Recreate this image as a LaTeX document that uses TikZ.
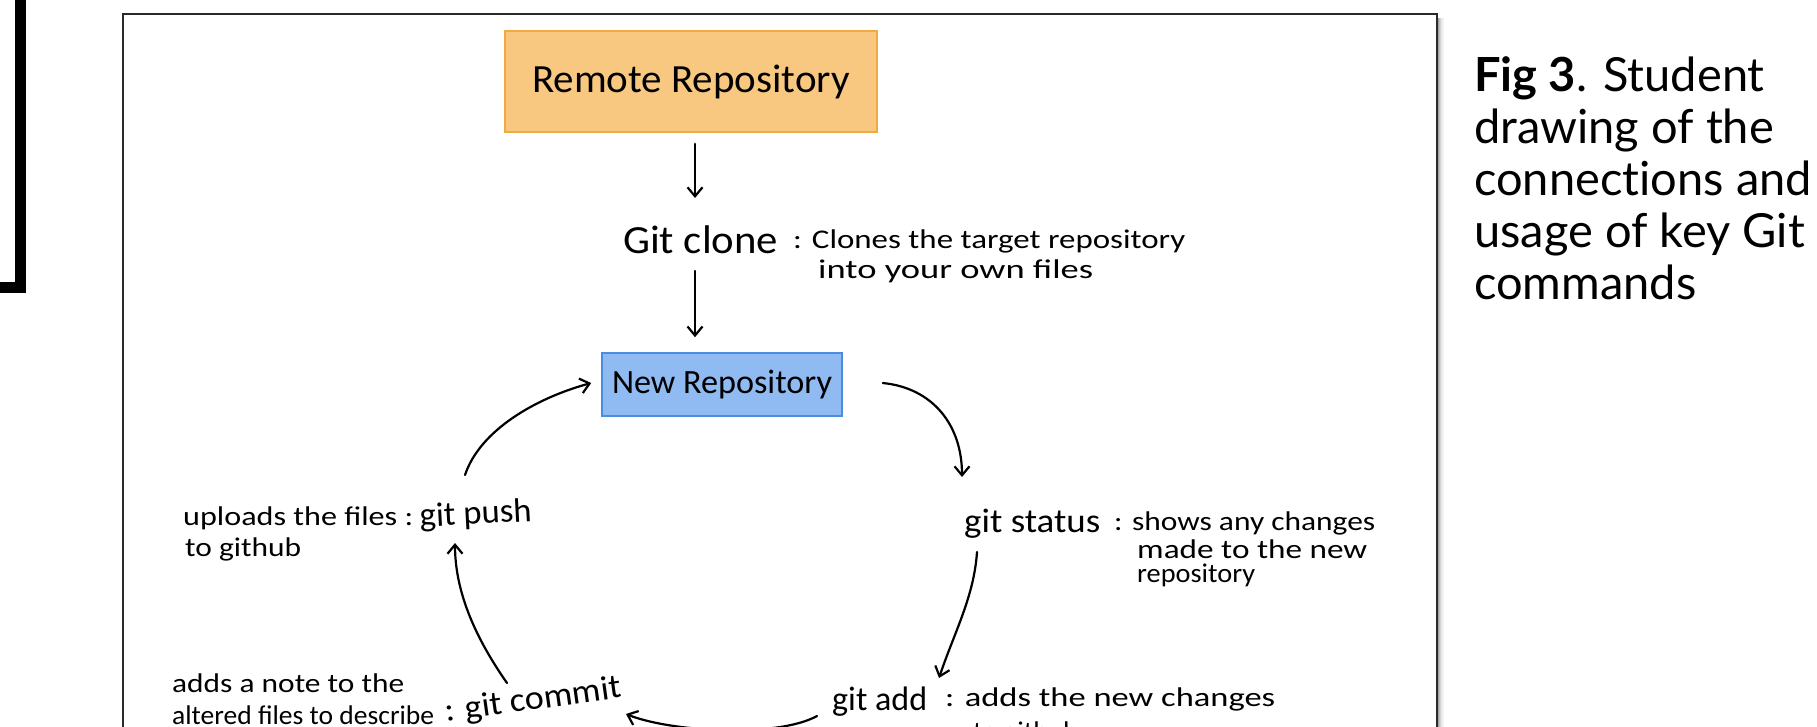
\documentclass[tikz,border=0pt]{standalone}
\usepackage{fontspec}
\usepackage{graphicx}
\usetikzlibrary{arrows.meta}
\setmainfont{Carlito}
\newfontfamily\capfont[Ligatures=NoCommon]{Lato}

\definecolor{orfill}{HTML}{F8C881}
\definecolor{ordraw}{HTML}{F0AA40}
\definecolor{blfill}{HTML}{8FBAF2}
\definecolor{bldraw}{HTML}{4A8DE0}
\definecolor{framecol}{HTML}{2A2A2A}

% stretch a handwritten label to a given width, keeping its height
\newcommand{\hw}[2]{\resizebox{#1}{\height}{#2}}

\begin{document}
\begin{tikzpicture}[x=1pt,y=-1pt,
  bighand/.style={inner sep=0pt, anchor=base west, font=\fontsize{40}{46}\selectfont},
  midhand/.style={inner sep=0pt, anchor=base west, font=\fontsize{34}{40}\selectfont},
  smallhand/.style={inner sep=0pt, anchor=base west, font=\fontsize{27}{32}\selectfont},
  remotebox/.style={draw=ordraw, fill=orfill, line width=1.6pt, minimum width=372pt, minimum height=101pt, inner sep=0pt, font=\fontsize{40}{46}\selectfont},
  repobox/.style={draw=bldraw, fill=blfill, line width=1.6pt, minimum width=240pt, minimum height=63pt, inner sep=0pt, font=\fontsize{34}{40}\selectfont},
  hand arrow/.style={line width=2.2pt, line cap=round, -{Straight Barb[length=9pt,width=15pt,line width=2.2pt]}},
  hand line/.style={line width=2.2pt, line cap=round}
]
\useasboundingbox (0,0) rectangle (1817,726);
\fill[white] (0,0) rectangle (1817,726);

% corner of the neighbouring panel
\fill[black] (15,0) rectangle (26,293);
\fill[black] (0,282) rectangle (26,293);

% panel frame with soft shadow on the right
\foreach \d/\o in {1/0.35,2/0.25,3/0.17,4/0.1,5/0.05}
  \draw[black, opacity=\o, line width=1.2pt] (1437+\d*1.2,18) -- (1437+\d*1.2,760);
\draw[framecol, line width=2pt] (123,800) -- (123,14) -- (1437,14) -- (1437,800);

% boxes
\node[remotebox] (remote) at (691,81.5) {\hw{318pt}{Remote Repository}};
\node[repobox] (newrepo) at (722,384.5) {\hw{220pt}{New Repository}};

% git clone
\node[bighand] (clone) at (623,253) {\hw{155pt}{Git clone}};
\node[smallhand] (clonea) at (793,248) {\hw{392pt}{: Clones the target repository}};
\node[smallhand] (cloneb) at (818,278) {\hw{275pt}{into your own files}};

% git status
\node[midhand] (status) at (964,532) {\hw{136pt}{git status}};
\node[smallhand] (statusa) at (1114,530) {\hw{261pt}{: shows any changes}};
\node[smallhand] (statusb) at (1137,558) {\hw{230pt}{made to the new}};
\node[smallhand] (statusc) at (1137,582) {\hw{118pt}{repository}};

% git add
\node[midhand] (add) at (832,710) {\hw{95pt}{git add}};
\node[smallhand] (adda) at (945,706) {\hw{330pt}{: adds the new changes}};
\node[smallhand] (addb) at (973,740) {\hw{105pt}{to github}};

% git commit
\node[smallhand] (commita) at (172,692) {\hw{232pt}{adds a note to the}};
\node[smallhand] (commitb) at (172,724) {\hw{262pt}{altered files to describe}};
\node[midhand, rotate=8] (commit) at (446,722) {\hw{178pt}{: git commit}};

% git push
\node[smallhand] (pusha) at (183,525) {\hw{230pt}{uploads the files :}};
\node[smallhand] (pushb) at (185,556) {\hw{116pt}{to github}};
\node[midhand, rotate=3] (push) at (420,527) {\hw{112pt}{git push}};

% connectors
\draw[hand arrow] ([shift={(4,11)}]remote.south) -- ([shift={(72,-55)}]clone.base west);
\draw[hand arrow] ([shift={(72,18)}]clone.base west) -- ([shift={(-27,-15)}]newrepo.north);
\draw[hand arrow] ([shift={(40,-1.5)}]newrepo.east)
  .. controls +(50,5) and +(0,-52) .. ([shift={(-2,-55)}]status.base west);
\draw[hand arrow] ([shift={(13,20)}]status.base west)
  .. controls +(-3,45) and +(15,-45) .. ([shift={(107,-32)}]add.base west);
\draw[hand arrow] ([shift={(-15,6)}]add.base west)
  .. controls +(-40,22) and +(45,18) .. ([shift={(180,-8)}]commit.base west);
\draw[hand arrow] ([shift={(61,-39)}]commit.base west)
  .. controls +(-35,-50) and +(0,45) .. ([shift={(35,16)}]push.base west);
\draw[hand arrow] ([shift={(45,-52)}]push.base west)
  .. controls +(15,-45) and +(-55,15) .. ([shift={(-10,-1.5)}]newrepo.west);

% caption
\node[inner sep=0pt, anchor=north west, align=left,
      font=\capfont\fontsize{47}{52}\selectfont] (caption) at (1474,56)
  {\textbf{Fig 3}. Student\\drawing of the\\connections and\\usage of key Git\\commands};
\end{tikzpicture}
\end{document}
